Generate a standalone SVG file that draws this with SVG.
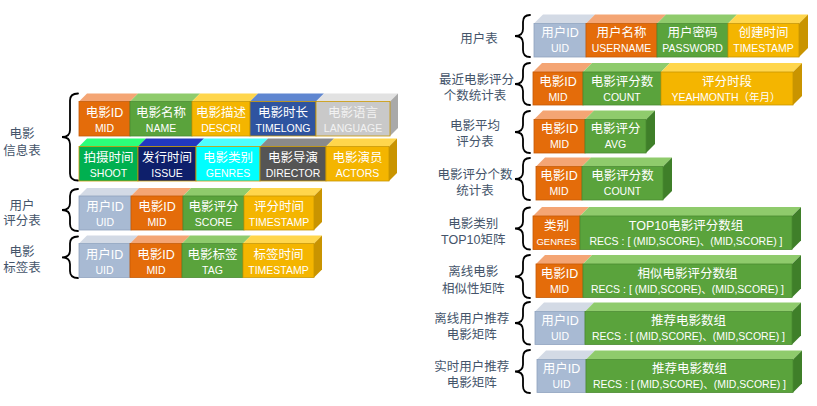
<svg xmlns="http://www.w3.org/2000/svg" width="817" height="406" viewBox="0 0 817 406">
<style>
text{font-family:"Liberation Sans","Noto Sans CJK SC",sans-serif;text-anchor:middle}
.cn{font-size:12.5px;fill:#fff}
.en{font-size:10.5px;fill:#fff}
.lbl{font-size:12.5px;fill:#44546a}
.brace{fill:none;stroke:#000;stroke-width:1.8;stroke-linecap:round}
.or{fill:#e46c0a;stroke:#c55a05;stroke-width:.8}.or-t{fill:#f4a574}
.gr{fill:#5aa33c;stroke:#4a8a30;stroke-width:.8}.gr-t{fill:#8fcb6c}.gr-s{fill:#3f7f29}
.go{fill:#f4b500;stroke:#c99700;stroke-width:.8}.go-t{fill:#ffd64c}.go-s{fill:#c99400}
.ui{fill:#a8bad3;stroke:#8fa3bf;stroke-width:.8}.ui-t{fill:#d3dae5}
.bl{fill:#2f54a0;stroke:#c99700;stroke-width:.8}.bl-t{fill:#5f86d0}
.gy{fill:#c9c9c9;stroke:#c99700;stroke-width:.8}.gy-t{fill:#e2e2e2}.gy-s{fill:#a9a9a9}
.sg{fill:#00b050;stroke:#c99700;stroke-width:.8}.sg-t{fill:#2cff7a}
.nv{fill:#0e1f6b;stroke:#c99700;stroke-width:.8}.nv-t{fill:#2238c0}
.cy{fill:#00ffff;stroke:#c99700;stroke-width:.8}.cy-t{fill:#4dffff}
.dg{fill:#555;stroke:#c99700;stroke-width:.8}.dg-t{fill:#8a8a8a}
</style>

<g id="connectors">
<path class="brace" d="M78,93.5 Q70,93.5 70,100.5 L70,130 Q70,137 62,137 Q70,137 70,144 L70,173.5 Q70,180.5 78,180.5"/>
<path class="brace" d="M78,189 Q70,189 70,196 L70,203 Q70,210 62,210 Q70,210 70,217 L70,224 Q70,231 78,231"/>
<path class="brace" d="M78,236.5 Q70,236.5 70,243.5 L70,250.3 Q70,257.3 62,257.3 Q70,257.3 70,264.3 L70,271 Q70,278 78,278"/>
<path class="brace" d="M530,15 Q523,15 523,22 L523,29 Q523,36 515,36 Q523,36 523,43 L523,50 Q523,57 530,57"/>
<path class="brace" d="M530,63 Q523,63 523,70 L523,77 Q523,84 515,84 Q523,84 523,91 L523,98 Q523,105 530,105"/>
<path class="brace" d="M530,111 Q523,111 523,118 L523,125 Q523,132 515,132 Q523,132 523,139 L523,146 Q523,153 530,153"/>
<path class="brace" d="M530,158 Q523,158 523,165 L523,172 Q523,179 515,179 Q523,179 523,186 L523,193 Q523,200 530,200"/>
<path class="brace" d="M530,207.5 Q523,207.5 523,214.5 L523,221.5 Q523,228.5 515,228.5 Q523,228.5 523,235.5 L523,242.5 Q523,249.5 530,249.5"/>
<path class="brace" d="M530,255 Q523,255 523,262 L523,269.5 Q523,276.5 515,276.5 Q523,276.5 523,283.5 L523,291 Q523,298 530,298"/>
<path class="brace" d="M530,302 Q523,302 523,309 L523,316 Q523,323 515,323 Q523,323 523,330 L523,337.5 Q523,344.5 530,344.5"/>
<path class="brace" d="M530,350 Q523,350 523,357 L523,364.5 Q523,371.5 515,371.5 Q523,371.5 523,378.5 L523,386 Q523,393 530,393"/>
</g>

<g id="movie-info">
<text class="lbl" x="22" y="138">电影</text>
<text class="lbl" x="22" y="154.7">信息表</text>
<polygon class="or-t" points="79,101.5 87,93.5 138,93.5 130,101.5"/>
<polygon class="gr-t" points="130,101.5 138,93.5 200,93.5 192,101.5"/>
<polygon class="go-t" points="192,101.5 200,93.5 258,93.5 250,101.5"/>
<polygon class="bl-t" points="250,101.5 258,93.5 324,93.5 316,101.5"/>
<polygon class="gy-t" points="316,101.5 324,93.5 398,93.5 390,101.5"/>
<polygon class="gy-s" points="390,101.5 398,93.5 398,128 390,136"/>
<rect class="or" x="79" y="101.5" width="51" height="34.5"/>
<rect class="gr" x="130" y="101.5" width="62" height="34.5"/>
<rect class="go" x="192" y="101.5" width="58" height="34.5"/>
<rect class="bl" x="250" y="101.5" width="66" height="34.5"/>
<rect class="gy" x="316" y="101.5" width="74" height="34.5"/>
<text class="cn" x="104.5" y="116.5">电影ID</text><text class="en" x="104.5" y="131.5">MID</text>
<text class="cn" x="161" y="116.5">电影名称</text><text class="en" x="161" y="131.5">NAME</text>
<text class="cn" x="221" y="116.5">电影描述</text><text class="en" x="221" y="131.5">DESCRI</text>
<text class="cn" x="283" y="116.5">电影时长</text><text class="en" x="283" y="131.5">TIMELONG</text>
<text class="cn" x="353" y="116.5" style="fill:#f2f2f2">电影语言</text><text class="en" x="353" y="131.5" style="fill:#f2f2f2">LANGUAGE</text>

<polygon class="sg-t" points="79,146.5 87,138.5 146,138.5 138,146.5"/>
<polygon class="nv-t" points="138,146.5 146,138.5 204,138.5 196,146.5"/>
<polygon class="cy-t" points="196,146.5 204,138.5 268,138.5 260,146.5"/>
<polygon class="dg-t" points="260,146.5 268,138.5 334,138.5 326,146.5"/>
<polygon class="go-t" points="326,146.5 334,138.5 397,138.5 389,146.5"/>
<polygon class="go-s" points="389,146.5 397,138.5 397,173 389,181"/>
<rect class="sg" x="79" y="146.5" width="59" height="34.5"/>
<rect class="nv" x="138" y="146.5" width="58" height="34.5"/>
<rect class="cy" x="196" y="146.5" width="64" height="34.5"/>
<rect class="dg" x="260" y="146.5" width="66" height="34.5"/>
<rect class="go" x="326" y="146.5" width="63" height="34.5"/>
<text class="cn" x="108.5" y="161.5">拍摄时间</text><text class="en" x="108.5" y="176.5">SHOOT</text>
<text class="cn" x="167" y="161.5">发行时间</text><text class="en" x="167" y="176.5">ISSUE</text>
<text class="cn" x="228" y="161.5">电影类别</text><text class="en" x="228" y="176.5">GENRES</text>
<text class="cn" x="293" y="161.5">电影导演</text><text class="en" x="293" y="176.5">DIRECTOR</text>
<text class="cn" x="357.5" y="161.5">电影演员</text><text class="en" x="357.5" y="176.5">ACTORS</text>
</g>

<g id="user-rating">
<text class="lbl" x="22" y="210.4">用户</text>
<text class="lbl" x="22" y="224.7">评分表</text>
<polygon class="ui-t" points="79,196 87,188 139,188 131,196"/>
<polygon class="or-t" points="131,196 139,188 191,188 183,196"/>
<polygon class="gr-t" points="183,196 191,188 252,188 244,196"/>
<polygon class="go-t" points="244,196 252,188 322,188 314,196"/>
<polygon class="go-s" points="314,196 322,188 322,222 314,230"/>
<rect class="ui" x="79" y="196" width="52" height="34"/>
<rect class="or" x="131" y="196" width="52" height="34"/>
<rect class="gr" x="183" y="196" width="61" height="34"/>
<rect class="go" x="244" y="196" width="70" height="34"/>
<text class="cn" x="105" y="211.4">用户ID</text><text class="en" x="105" y="225.5">UID</text>
<text class="cn" x="157" y="211.4">电影ID</text><text class="en" x="157" y="225.5">MID</text>
<text class="cn" x="213.5" y="211.4">电影评分</text><text class="en" x="213.5" y="225.5">SCORE</text>
<text class="cn" x="279" y="211.4">评分时间</text><text class="en" x="279" y="225.5">TIMESTAMP</text>
</g>

<g id="movie-tag">
<text class="lbl" x="22" y="256">电影</text>
<text class="lbl" x="22" y="272">标签表</text>
<polygon class="ui-t" points="79,243.5 87,235.5 138,235.5 130,243.5"/>
<polygon class="or-t" points="130,243.5 138,235.5 190,235.5 182,243.5"/>
<polygon class="gr-t" points="182,243.5 190,235.5 251,235.5 243,243.5"/>
<polygon class="go-t" points="243,243.5 251,235.5 322,235.5 314,243.5"/>
<polygon class="go-s" points="314,243.5 322,235.5 322,269.5 314,277.5"/>
<rect class="ui" x="79" y="243.5" width="51" height="34"/>
<rect class="or" x="130" y="243.5" width="52" height="34"/>
<rect class="gr" x="182" y="243.5" width="61" height="34"/>
<rect class="go" x="243" y="243.5" width="71" height="34"/>
<text class="cn" x="104.5" y="259">用户ID</text><text class="en" x="104.5" y="273.8">UID</text>
<text class="cn" x="156" y="259">电影ID</text><text class="en" x="156" y="273.8">MID</text>
<text class="cn" x="212.5" y="259">电影标签</text><text class="en" x="212.5" y="273.8">TAG</text>
<text class="cn" x="278.5" y="259">标签时间</text><text class="en" x="278.5" y="273.8">TIMESTAMP</text>
</g>

<g id="user-table">
<text class="lbl" x="479" y="43">用户表</text>
<polygon class="ui-t" points="534,23.5 543,14.5 595,14.5 586,23.5"/>
<polygon class="or-t" points="586,23.5 595,14.5 666,14.5 657,23.5"/>
<polygon class="gr-t" points="657,23.5 666,14.5 737,14.5 728,23.5"/>
<polygon class="go-t" points="728,23.5 737,14.5 808,14.5 799,23.5"/>
<polygon class="go-s" points="799,23.5 808,14.5 808,48 799,57"/>
<rect class="ui" x="534" y="23.5" width="52" height="33.5"/>
<rect class="or" x="586" y="23.5" width="71" height="33.5"/>
<rect class="gr" x="657" y="23.5" width="71" height="33.5"/>
<rect class="go" x="728" y="23.5" width="71" height="33.5"/>
<text class="cn" x="560" y="37.2">用户ID</text><text class="en" x="560" y="52.3">UID</text>
<text class="cn" x="621.5" y="37.2">用户名称</text><text class="en" x="621.5" y="52.3">USERNAME</text>
<text class="cn" x="692.5" y="37.2">用户密码</text><text class="en" x="692.5" y="52.3">PASSWORD</text>
<text class="cn" x="763.5" y="37.2">创建时间</text><text class="en" x="763.5" y="52.3">TIMESTAMP</text>
</g>

<g id="recent-rating-count">
<text class="lbl" x="476.5" y="83.7">最近电影评分</text>
<text class="lbl" x="475" y="99.7">个数统计表</text>
<polygon class="or-t" points="533,72 542,63 592,63 583,72"/>
<polygon class="gr-t" points="583,72 592,63 670,63 661,72"/>
<polygon class="go-t" points="661,72 670,63 802,63 793,72"/>
<polygon class="go-s" points="793,72 802,63 802,96 793,105"/>
<rect class="or" x="533" y="72" width="50" height="33"/>
<rect class="gr" x="583" y="72" width="78" height="33"/>
<rect class="go" x="661" y="72" width="132" height="33"/>
<text class="cn" x="558" y="85.5">电影ID</text><text class="en" x="558" y="100.5">MID</text>
<text class="cn" x="622" y="85.5">电影评分数</text><text class="en" x="622" y="100.5">COUNT</text>
<text class="cn" x="727" y="85.5">评分时段</text><text class="en" x="726" y="100.5">YEAHMONTH（年月）</text>
</g>

<g id="movie-avg">
<text class="lbl" x="475" y="129.7">电影平均</text>
<text class="lbl" x="475" y="146.4">评分表</text>
<polygon class="or-t" points="534,119.5 543,110.5 594,110.5 585,119.5"/>
<polygon class="gr-t" points="585,119.5 594,110.5 655,110.5 646,119.5"/>
<polygon class="gr-s" points="646,119.5 655,110.5 655,144 646,153"/>
<rect class="or" x="534" y="119.5" width="51" height="33.5"/>
<rect class="gr" x="585" y="119.5" width="61" height="33.5"/>
<text class="cn" x="559.5" y="133">电影ID</text><text class="en" x="559.5" y="148">MID</text>
<text class="cn" x="615.5" y="133">电影评分</text><text class="en" x="615.5" y="148">AVG</text>
</g>

<g id="movie-rating-count">
<text class="lbl" x="475" y="178.7">电影评分个数</text>
<text class="lbl" x="475" y="195.4">统计表</text>
<polygon class="or-t" points="536,166.5 545,157.5 591,157.5 582,166.5"/>
<polygon class="gr-t" points="582,166.5 591,157.5 672,157.5 663,166.5"/>
<polygon class="gr-s" points="663,166.5 672,157.5 672,191 663,200"/>
<rect class="or" x="536" y="166.5" width="46" height="33.5"/>
<rect class="gr" x="582" y="166.5" width="81" height="33.5"/>
<text class="cn" x="559" y="180">电影ID</text><text class="en" x="559" y="195">MID</text>
<text class="cn" x="622.5" y="180">电影评分数</text><text class="en" x="622.5" y="195">COUNT</text>
</g>

<g id="genres-top10">
<text class="lbl" x="473.3" y="228">电影类别</text>
<text class="lbl" x="473.3" y="244">TOP10矩阵</text>
<polygon class="or-t" points="533,216 542,207 589,207 580,216"/>
<polygon class="gr-t" points="580,216 589,207 801,207 792,216"/>
<polygon class="gr-s" points="792,216 801,207 801,240.5 792,249.5"/>
<rect class="or" x="533" y="216" width="47" height="33.5"/>
<rect class="gr" x="580" y="216" width="212" height="33.5"/>
<text class="cn" x="556.5" y="229.5">类别</text><text class="en" x="556.5" y="244.5" style="font-size:9.5px">GENRES</text>
<text class="cn" x="686" y="229.5">TOP10电影评分数组</text><text class="en" x="686" y="244.5">RECS : [ (MID,SCORE)、(MID,SCORE) ]</text>
</g>

<g id="movie-similarity">
<text class="lbl" x="473.3" y="276.4">离线电影</text>
<text class="lbl" x="473.3" y="293">相似性矩阵</text>
<polygon class="or-t" points="536,264 545,255 592,255 583,264"/>
<polygon class="gr-t" points="583,264 592,255 801,255 792,264"/>
<polygon class="gr-s" points="792,264 801,255 801,288.5 792,297.5"/>
<rect class="or" x="536" y="264" width="47" height="33.5"/>
<rect class="gr" x="583" y="264" width="209" height="33.5"/>
<text class="cn" x="559.5" y="277.5">电影ID</text><text class="en" x="559.5" y="292.5">MID</text>
<text class="cn" x="687.5" y="277.5">相似电影评分数组</text><text class="en" x="687.5" y="292.5">RECS : [ (MID,SCORE)、(MID,SCORE) ]</text>
</g>

<g id="offline-user-recs">
<text class="lbl" x="471.7" y="323">离线用户推荐</text>
<text class="lbl" x="471.7" y="339">电影矩阵</text>
<polygon class="ui-t" points="535,311.5 544,302.5 594,302.5 585,311.5"/>
<polygon class="gr-t" points="585,311.5 594,302.5 801,302.5 792,311.5"/>
<polygon class="gr-s" points="792,311.5 801,302.5 801,335.5 792,344.5"/>
<rect class="ui" x="535" y="311.5" width="50" height="33"/>
<rect class="gr" x="585" y="311.5" width="207" height="33"/>
<text class="cn" x="560" y="325">用户ID</text><text class="en" x="560" y="340">UID</text>
<text class="cn" x="688.5" y="325">推荐电影数组</text><text class="en" x="688.5" y="340">RECS : [ (MID,SCORE)、(MID,SCORE) ]</text>
</g>

<g id="realtime-user-recs">
<text class="lbl" x="471.7" y="371">实时用户推荐</text>
<text class="lbl" x="471.7" y="387">电影矩阵</text>
<polygon class="ui-t" points="537,359.5 546,350.5 595,350.5 586,359.5"/>
<polygon class="gr-t" points="586,359.5 595,350.5 802,350.5 793,359.5"/>
<polygon class="gr-s" points="793,359.5 802,350.5 802,383.5 793,392.5"/>
<rect class="ui" x="537" y="359.5" width="49" height="33"/>
<rect class="gr" x="586" y="359.5" width="207" height="33"/>
<text class="cn" x="561.5" y="373">用户ID</text><text class="en" x="561.5" y="388">UID</text>
<text class="cn" x="689.5" y="373">推荐电影数组</text><text class="en" x="689.5" y="388">RECS : [ (MID,SCORE)、(MID,SCORE) ]</text>
</g>
</svg>
